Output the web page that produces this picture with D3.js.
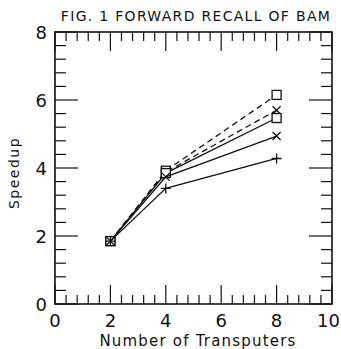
<!DOCTYPE html>
<html>
<head>
<meta charset="utf-8">
<script src="https://cdn.jsdelivr.net/npm/d3@7"></script>
<style>
  body { margin: 0; background: #fff; }
  text { font-family: "DejaVu Sans", sans-serif; fill: #111; }
</style>
</head>
<body>
<script>
(function (){

    //chart data
    var transputers = [2, 4, 8];
    var seriesNames = ["squareDash", "crossDash", "squareSolid", "crossSolid", "plusSolid"];
    var seriesValues = [
        [1.85, 3.92, 6.15],
        [1.85, 3.88, 5.70],
        [1.85, 3.85, 5.47],
        [1.85, 3.74, 4.94],
        [1.85, 3.40, 4.28]
    ];
    var seriesMarker = ["square", "cross", "square", "cross", "plus"];
    var seriesDashed = [true, true, false, false, false];
    var xTickLabels = [0, 2, 4, 6, 8, 10];
    var yTickLabels = [0, 2, 4, 6, 8];

    var width = 341, height = 349;
    var left = 55, right = 332, top = 32, bottom = 304;

    var svg = d3.select("body").append("svg")
        .attr("width", width)
        .attr("height", height);

    var x = d3.scaleLinear().domain([0, 10]).range([left, right]);
    var y = d3.scaleLinear().domain([0, 8]).range([bottom, top]);

    //minor ticks every 0.4, major every 2
    var minor = d3.range(0, 10.01, 0.4);
    var minorY = d3.range(0, 8.01, 0.4);
    function isMajor(v){ return Math.abs(v / 2 - Math.round(v / 2)) < 1e-6; }

    var ticks = svg.append("g").attr("stroke", "#111").attr("stroke-width", 1.2);

    minor.forEach(function(v){
        var len = isMajor(v) ? 19 : 9;
        ticks.append("line").attr("x1", x(v)).attr("x2", x(v))
            .attr("y1", bottom).attr("y2", bottom - len);
        ticks.append("line").attr("x1", x(v)).attr("x2", x(v))
            .attr("y1", top).attr("y2", top + len);
    });
    minorY.forEach(function(v){
        var len = isMajor(v) ? 23 : 11;
        ticks.append("line").attr("y1", y(v)).attr("y2", y(v))
            .attr("x1", left).attr("x2", left + len);
        ticks.append("line").attr("y1", y(v)).attr("y2", y(v))
            .attr("x1", right).attr("x2", right - len);
    });

    //frame
    svg.append("rect")
        .attr("x", left).attr("y", top)
        .attr("width", right - left).attr("height", bottom - top)
        .attr("fill", "none").attr("stroke", "#111").attr("stroke-width", 1.6);

    //tick labels (last one pulled in so it stays on the page)
    svg.selectAll(".xlab").data(xTickLabels).enter().append("text")
        .attr("x", function(d){ return d === 10 ? 340 : x(d); })
        .attr("y", 327)
        .attr("text-anchor", function(d){ return d === 10 ? "end" : "middle"; })
        .style("font-size", "18px")
        .text(function(d){ return d; });

    svg.selectAll(".ylab").data(yTickLabels).enter().append("text")
        .attr("x", 47)
        .attr("y", function(d){ return y(d) + 7; })
        .attr("text-anchor", "end")
        .style("font-size", "18px")
        .text(function(d){ return d; });

    //titles
    svg.append("text").attr("x", 196).attr("y", 21)
        .attr("text-anchor", "middle")
        .style("font-size", "14px")
        .style("letter-spacing", "1.3px")
        .text("FIG. 1 FORWARD RECALL OF BAM");

    svg.append("text").attr("x", 198).attr("y", 346)
        .attr("text-anchor", "middle")
        .style("font-size", "15px")
        .style("letter-spacing", "1.2px")
        .text("Number of Transputers");

    svg.append("text")
        .attr("transform", "translate(19," + 173 + ") rotate(-90)")
        .attr("text-anchor", "middle")
        .style("font-size", "14px")
        .style("letter-spacing", "1.5px")
        .text("Speedup");

    //lines
    var line = d3.line()
        .x(function(d, i){ return x(transputers[i]); })
        .y(function(d){ return y(d); });

    seriesValues.forEach(function(vals, s){
        var g = svg.append("g").attr("class", seriesNames[s]);
        g.append("path")
            .datum(vals)
            .attr("d", line)
            .attr("fill", "none")
            .attr("stroke", "#111")
            .attr("stroke-width", 1.3)
            .attr("stroke-dasharray", seriesDashed[s] ? "6,4" : null);

        vals.forEach(function(v, i){
            var cx = x(transputers[i]), cy = y(v);
            var m = seriesMarker[s];
            if (m === "square"){
                g.append("rect").attr("x", cx - 4.5).attr("y", cy - 4.5)
                    .attr("width", 9).attr("height", 9)
                    .attr("fill", "#fff").attr("stroke", "#111").attr("stroke-width", 1.3);
            } else if (m === "cross"){
                g.append("path")
                    .attr("d", "M" + (cx - 4) + "," + (cy - 4) + "L" + (cx + 4) + "," + (cy + 4) +
                               "M" + (cx - 4) + "," + (cy + 4) + "L" + (cx + 4) + "," + (cy - 4))
                    .attr("stroke", "#111").attr("stroke-width", 1.3);
            } else {
                g.append("path")
                    .attr("d", "M" + (cx - 5) + "," + cy + "L" + (cx + 5) + "," + cy +
                               "M" + cx + "," + (cy - 5) + "L" + cx + "," + (cy + 5))
                    .attr("stroke", "#111").attr("stroke-width", 1.3);
            }
        });
    });

})();
</script>
</body>
</html>
